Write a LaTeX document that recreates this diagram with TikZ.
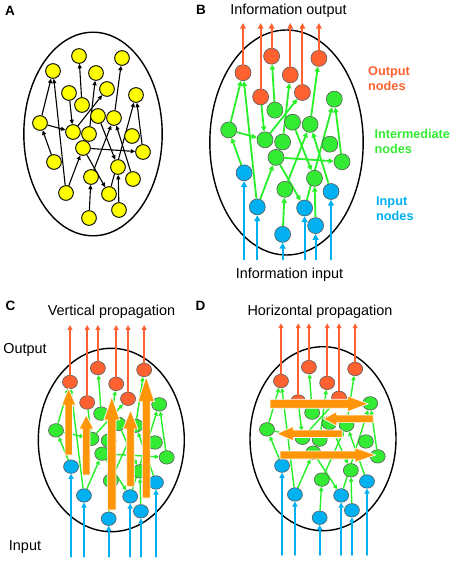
\documentclass[tikz,border=0pt]{standalone}
\usepackage{fontspec}
\setmainfont{Liberation Sans}
\usetikzlibrary{arrows.meta,shapes.geometric,backgrounds}
\definecolor{nodeyel}{RGB}{255,255,0}
\definecolor{outred}{RGB}{255,98,48}
\definecolor{midgreen}{RGB}{50,235,50}
\definecolor{inblue}{RGB}{0,176,240}
\definecolor{linkgreen}{RGB}{40,240,40}
\definecolor{pushorange}{RGB}{255,150,10}
\definecolor{rimgray}{RGB}{90,90,90}
% the network of panel A (pixels, y downwards)
\newcommand{\netnodes}{1/79/56/outnode, 2/122/58/outnode, 3/53/71/outnode, 4/96/73/outnode, 5/69/93/outnode, 6/107/89/outnode, 7/136/95/midnode, 8/82/105/midnode, 9/98/116/midnode, 10/114/118/midnode, 11/40/123/midnode, 12/73/132/midnode, 13/89/134/midnode, 14/132/136/midnode, 15/83/148/midnode, 16/143/152/midnode, 17/54/162/innode, 18/118/167/midnode, 19/91/177/midnode, 20/133/179/innode, 21/66/193/innode, 22/109/194/innode, 23/119/210/innode, 24/89/218/innode}
\newcommand{\netlinks}{11/3, 21/3, 8/1, 13/4, 10/2, 12/6, 5/12, 11/12, 17/11, 21/15, 15/16, 16/7, 22/7, 15/22, 9/18, 19/10, 20/10, 24/19, 23/18}

\begin{document}
\begin{tikzpicture}[line cap=round,line join=round,x=1pt,y=-1pt,
	yel/.style={circle,draw=black,line width=0.9pt,fill=nodeyel,inner sep=0pt,minimum size=14.7pt},
	outnode/.style={ellipse,draw=rimgray,line width=0.6pt,fill=outred,inner sep=0pt},
	midnode/.style={ellipse,draw=rimgray,line width=0.6pt,fill=midgreen,inner sep=0pt},
	innode/.style={ellipse,draw=rimgray,line width=0.6pt,fill=inblue,inner sep=0pt},
	linkA/.style={-{Triangle[length=4.5pt,width=4pt]},line width=1.1pt,black},
	link/.style={-{Triangle[length=1.5pt 2,width=1.5pt 2]},linkgreen},
	outflow/.style={-{Triangle[length=1.5pt 2,width=1.5pt 2]},outred},
	inflow/.style={-{Triangle[length=1.5pt 2,width=1.5pt 2]},inblue},
	rim/.style={line width=1.4pt,black},
	push/.style={fill=pushorange,draw=white,line width=0.7pt},
	tag/.style={font=\bfseries\fontsize{13.5}{15}\selectfont,inner sep=0pt},
	title/.style={font=\fontsize{14.4}{17}\selectfont,inner sep=0pt},
	side/.style={font=\bfseries\fontsize{12.7}{15}\selectfont,align=left,inner sep=0pt,anchor=north west}]
	\useasboundingbox (0,0) rectangle (454,561);
	% panel A
	\begin{scope}[on background layer]
		\draw[rim] (93,134) ellipse [x radius=69.2, y radius=101.8];
	\end{scope}
	\foreach \n/\x/\y/\r in \netnodes
		\node[yel] (a\n) at (\x,\y) {};
	\begin{scope}[on background layer]
		\foreach \s/\t in \netlinks
			\draw[linkA] (a\s) -- (a\t);
	\end{scope}
	% panels B, C, D
	\foreach \p/\sx/\sy/\dx/\dy/\ex/\ey/\rx/\ry/\nw/\nh/\lw/\ytop/\ybot in {b/1.1/1.1/184.7/-5.4/286.5/142.5/76.7/112.5/16pt/16pt/1.8pt/23/259.3, c/1.075/0.93/13/316/111.3/440/73/91.7/15pt/13.5pt/1.4pt/325/556.7, d/1.075/0.93/224/315/323/438.7/73/92/15pt/13.5pt/1.4pt/323.3/555}{
		\coordinate (top\p) at (0,\ytop);
		\coordinate (bot\p) at (0,\ybot);
		\begin{scope}[on background layer]
			\draw[rim] (\ex,\ey) ellipse [x radius=\rx, y radius=\ry];
		\end{scope}
		\begin{scope}[shift={(\dx,\dy)},xscale=\sx,yscale=\sy]
			\foreach \n/\x/\y/\r in \netnodes
				\node[\r,minimum width=\nw,minimum height=\nh] (\p\n) at (\x,\y) {};
		\end{scope}
		\begin{scope}[on background layer]
			\foreach \s/\t in \netlinks
				\draw[link,line width=\lw] (\p\s) -- (\p\t);
		\end{scope}
		\foreach \n in {1,...,6}
			\draw[outflow,line width=\lw+0.3pt] (\p\n.north) -- (\p\n.north |- top\p);
		\foreach \n in {17,20,21,22,23,24}
			\draw[inflow,line width=\lw+0.4pt] (\p\n.south |- bot\p) -- (\p\n.south);
	}
	% vertical propagation
	\foreach \x/\ya/\yh/\yt/\w/\h in {68.7/455/405/388.3/3.7/7, 86.3/475/429/415/3.7/7.3, 111.8/510/420/396.7/4.2/8, 130.5/486.7/429/410/3.8/7.5, 146.2/498/401.7/376.7/3.9/8.3}
		\filldraw[push] (\x-\w,\ya) -- (\x-\w,\yh) -- (\x-\h,\yh) -- (\x,\yt) -- (\x+\h,\yh) -- (\x+\w,\yh) -- (\x+\w,\ya) -- cycle;
	% horizontal propagation
	\foreach \y/\xa/\xh/\xt/\w/\h in {403.8/270/347.7/368.3/4.5/7.8, 418.8/373.3/336.7/323.3/3.8/7.2, 433.7/342.3/293.3/276.7/3.7/7.2, 455/280/355/375.7/4/7.2}
		\filldraw[push] (\xa,\y-\w) -- (\xh,\y-\w) -- (\xh,\y-\h) -- (\xt,\y) -- (\xh,\y+\h) -- (\xh,\y+\w) -- (\xa,\y+\w) -- cycle;
	% labels
	\node[tag,anchor=base] (labA) at (10,15.3) {A};
	\node[tag,anchor=base] (labB) at (201,15) {B};
	\node[tag,anchor=base] (labC) at (10.5,310) {C};
	\node[tag,anchor=base] (labD) at (200.5,310) {D};
	\node[title,anchor=base] (infoout) at (288.5,15) {Information output};
	\node[title,anchor=base] (infoin) at (289.5,278) {Information input};
	\node[side,text=outred] (outtag) at (368,66.7) {Output\\nodes};
	\node[side,text=midgreen] (midtag) at (374.3,129) {Intermediate\\nodes};
	\node[side,text=inblue] (intag) at (376,196.7) {Input\\nodes};
	\node[title,anchor=base] (vert) at (111.5,315) {Vertical propagation};
	\node[title,anchor=base] (horiz) at (320,315) {Horizontal propagation};
	\node[title,anchor=base] (outC) at (25,353) {Output};
	\node[title,anchor=base] (inC) at (25,550) {Input};
\end{tikzpicture}
\end{document}
